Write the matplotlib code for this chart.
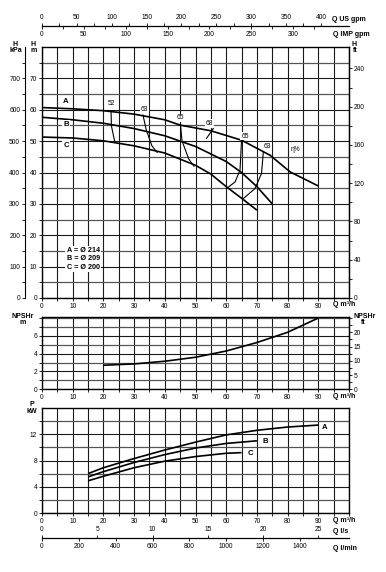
import matplotlib
matplotlib.use('Agg')
import matplotlib.pyplot as plt
from matplotlib.ticker import FixedLocator, NullFormatter

plt.rcParams['font.family'] = ['Liberation Sans', 'DejaVu Sans']

# ---------------- data ----------------
# Head curves (Q m3/h, H m)
q_head_A = [0, 10, 20, 30, 40, 45, 55, 65, 74.3, 80.8, 90]
h_head_A = [60.7, 60.3, 59.7, 58.6, 56.8, 55.1, 53.3, 50.3, 45.5, 40.2, 35.7]
q_head_B = [0, 10, 20, 30, 40, 50, 60, 65, 70, 75]
h_head_B = [57.6, 56.8, 55.7, 54.0, 51.7, 48.3, 43.5, 40.0, 35.5, 30.0]
q_head_C = [0, 10, 20, 30, 40, 50, 55, 60, 65, 70]
h_head_C = [51.3, 51.0, 50.1, 48.5, 46.2, 42.3, 39.5, 35.5, 31.8, 28.0]

# Iso-efficiency curves
eff_labels = ["52", "63", "65", "68", "65", "63"]
eff_q = [[22.5, 22.6, 23.7],
         [32.9, 33.9, 35.8, 37.5],
         [45.1, 45.6, 47.8, 49.5],
         [55.8, 53.6],
         [65.0, 64.5, 62.9, 60.1],
         [72.1, 71.5, 69.4, 65.6]]
eff_h = [[59.4, 54.9, 49.8],
         [58.3, 53.8, 48.5, 46.4],
         [55.4, 50.1, 44.3, 42.0],
         [54.0, 50.9],
         [50.3, 40.8, 37.0, 34.9],
         [46.6, 39.7, 34.9, 31.7]]
eff_label_q = [22.6, 33.4, 45.1, 54.5, 66.1, 73.4]
eff_label_h = [62.0, 60.2, 57.4, 55.6, 51.6, 48.4]

# NPSHr curve
q_npsh = [20, 30, 40, 50, 60, 70, 80, 90]
npsh = [2.7, 2.85, 3.15, 3.6, 4.3, 5.25, 6.4, 8.0]

# Power curves (kW)
q_pow_A = [15, 20, 30, 40, 50, 60, 70, 80, 90]
p_pow_A = [6.0, 6.9, 8.3, 9.6, 10.8, 11.9, 12.6, 13.1, 13.4]
q_pow_B = [15, 20, 30, 40, 50, 60, 70]
p_pow_B = [5.5, 6.3, 7.7, 8.9, 9.9, 10.6, 11.0]
q_pow_C = [15, 20, 30, 40, 50, 60, 65]
p_pow_C = [4.9, 5.6, 6.9, 7.9, 8.6, 9.1, 9.2]

impeller_text = "A = Ø 214\nB = Ø 209\nC = Ø 200"

# ---------------- layout ----------------
W, H = 386, 572
L, R = 42, 349
fig = plt.figure(figsize=(W / 100, H / 100), dpi=100)
fig.patch.set_facecolor('white')

def fx(px):
    return px / W

def fy(py):
    return 1 - py / H

def make_axes(top, bottom):
    return fig.add_axes([fx(L), fy(bottom), (R - L) / W, (bottom - top) / H])

FS = 4.8
GRID_DARK = '#1a1a1a'
GRID_MINOR = '#555555'

def style(ax, ymaj, ymin, ylim):
    ax.set_xlim(0, 100)
    ax.set_ylim(*ylim)
    ax.xaxis.set_major_locator(FixedLocator(list(range(0, 100, 10))))
    ax.xaxis.set_minor_locator(FixedLocator([5 * k for k in range(0, 21)]))
    ax.yaxis.set_major_locator(FixedLocator(ymaj))
    ax.yaxis.set_minor_locator(FixedLocator(ymin))
    ax.yaxis.set_minor_formatter(NullFormatter())
    ax.tick_params(which='both', direction='out', length=2.5, width=0.6,
                   pad=1, labelsize=FS, colors='black')
    ax.xaxis.grid(True, which='both', color=GRID_DARK, lw=0.8)
    ax.yaxis.grid(True, which='major', color=GRID_DARK, lw=0.8)
    ax.yaxis.grid(True, which='minor', color=GRID_MINOR, lw=0.9)
    ax.set_axisbelow(True)
    for s in ax.spines.values():
        s.set_linewidth(1.0)
        s.set_color('black')

lbl_box = dict(facecolor='white', edgecolor='none', pad=0.6)
curve_kw = dict(color='black', lw=1.2, solid_capstyle='butt')

# ---------------- head plot ----------------
ax1 = make_axes(47, 298)
style(ax1, list(range(0, 80, 10)), [5 + 10 * k for k in range(8)], (0, 80))
ax1.plot(q_head_A, h_head_A, **curve_kw)
ax1.plot(q_head_B, h_head_B, **curve_kw)
ax1.plot(q_head_C, h_head_C, **curve_kw)
for qs, hs in zip(eff_q, eff_h):
    ax1.plot(qs, hs, color='black', lw=0.8)
for t, q, h in zip(eff_labels, eff_label_q, eff_label_h):
    ax1.text(q, h, t, fontsize=FS, ha='center', va='center', bbox=lbl_box)
ax1.text(82.4, 47.4, "η%", fontsize=FS, ha='center', va='center')
for t, h in zip(["A", "B", "C"], [62.7, 55.3, 48.5]):
    ax1.text(7.8, h, t, fontsize=5.6, fontweight='bold', ha='center',
             va='center', bbox=lbl_box)
ax1.text(8.1, 12.5, impeller_text, fontsize=5.2, fontweight='bold',
         ha='left', va='center', linespacing=1.25,
         bbox=dict(facecolor='white', edgecolor='none', pad=1.0))

kpa = ax1.secondary_yaxis(-17 / (R - L), functions=(lambda m: m * 10, lambda k: k / 10))
kpa.set_yticks(list(range(0, 701, 100)))
kpa.yaxis.set_minor_locator(FixedLocator([50 + 100 * k for k in range(8)]))
kpa.tick_params(which='both', direction='out', length=2.5, width=0.6, pad=1, labelsize=FS)
kpa.spines['left'].set_linewidth(0.8)

ft1 = ax1.secondary_yaxis('right', functions=(lambda m: m * 3.2808, lambda f: f / 3.2808))
ft1.set_yticks(list(range(0, 241, 40)))
ft1.yaxis.set_minor_locator(FixedLocator([20 + 40 * k for k in range(6)]))
ft1.tick_params(which='both', direction='out', length=2.5, width=0.6, pad=1, labelsize=FS)

# ---------------- NPSH plot ----------------
ax2 = make_axes(316.7, 389.3)
style(ax2, [0, 2, 4, 6], [1, 3, 5, 7, 8], (0, 8.15))
ax2.plot(q_npsh, npsh, **curve_kw)
ft2 = ax2.secondary_yaxis('right', functions=(lambda m: m * 3.13, lambda f: f / 3.13))
ft2.set_yticks([0, 5, 10, 15, 20])
ft2.yaxis.set_minor_locator(FixedLocator([2.5, 7.5, 12.5, 17.5, 22.5, 25]))
ft2.tick_params(which='both', direction='out', length=2.5, width=0.6, pad=1, labelsize=FS)

# ---------------- power plot ----------------
ax3 = make_axes(408, 513)
style(ax3, [0, 4, 8, 12], [2, 6, 10, 14], (0, 16))
ax3.plot(q_pow_A, p_pow_A, **curve_kw)
ax3.plot(q_pow_B, p_pow_B, **curve_kw)
ax3.plot(q_pow_C, p_pow_C, **curve_kw)
for t, q, p in zip(["A", "B", "C"], [92.2, 72.6, 67.8], [13.1, 10.9, 9.1]):
    ax3.text(q, p, t, fontsize=5.6, fontweight='bold', ha='center',
             va='center', bbox=lbl_box)

# ---------------- auxiliary flow scales ----------------
def flow_scale(py, top_fun, top_ticks, top_minor, bot_fun, bot_ticks, bot_minor):
    a = fig.add_axes([fx(L), fy(py), (R - L) / W, 0.0005])
    a.set_xlim(0, 100)
    a.set_xticks([])
    a.set_yticks([])
    a.patch.set_visible(False)
    for k in ['top', 'left', 'right']:
        a.spines[k].set_visible(False)
    a.spines['bottom'].set_linewidth(0.9)
    st = a.secondary_xaxis('top', functions=top_fun)
    st.set_xticks(top_ticks)
    st.xaxis.set_minor_locator(FixedLocator(top_minor))
    st.tick_params(which='both', direction='out', length=2.5, width=0.6, pad=1, labelsize=FS)
    st.spines['top'].set_visible(False)
    sb = a.secondary_xaxis('bottom', functions=bot_fun)
    sb.set_xticks(bot_ticks)
    sb.xaxis.set_minor_locator(FixedLocator(bot_minor))
    sb.tick_params(which='both', direction='out', length=2.5, width=0.6, pad=1, labelsize=FS)
    sb.spines['bottom'].set_visible(False)
    return a

flow_scale(26,
           (lambda q: q * 4.4029, lambda g: g / 4.4029), list(range(0, 401, 50)),
           [25 + 50 * k for k in range(8)],
           (lambda q: q * 3.6662, lambda g: g / 3.6662), list(range(0, 301, 50)),
           [25 + 50 * k for k in range(7)])
flow_scale(538,
           (lambda q: q / 3.6, lambda s: s * 3.6), [0, 5, 10, 15, 20, 25], [],
           (lambda q: q * 1000 / 60, lambda m: m * 60 / 1000),
           list(range(0, 1401, 200)), [])

# ---------------- texts ----------------
def t(px, py, s, **kw):
    kw.setdefault('fontsize', 5)
    kw.setdefault('fontweight', 'bold')
    fig.text(fx(px), fy(py), s, **kw)

t(15.5, 45, "H", ha='center', va='center')
t(15.5, 50.5, "kPa", ha='center', va='center')
t(33.5, 45, "H", ha='center', va='center')
t(33.5, 50.5, "m", ha='center', va='center')
t(352, 45, "H", ha='left', va='center')
t(352.5, 50.5, "ft", ha='left', va='center')
t(22.7, 316.5, "NPSHr", ha='center', va='center')
t(22.7, 323, "m", ha='center', va='center')
t(353, 316.5, "NPSHr", ha='left', va='center')
t(361, 323, "ft", ha='left', va='center')
t(31.7, 405, "P", ha='center', va='center')
t(31.7, 411.5, "kW", ha='center', va='center')

for py in (305, 396, 520):
    t(333, py, "Q m³/h", ha='left', va='center')
t(332, 19.3, "Q US gpm", ha='left', va='center')
t(333, 34.3, "Q IMP gpm", ha='left', va='center')
t(333, 531.7, "Q l/s", ha='left', va='center')
t(333, 548.3, "Q l/min", ha='left', va='center')

fig.savefig('out.png', dpi=100, facecolor='white')
